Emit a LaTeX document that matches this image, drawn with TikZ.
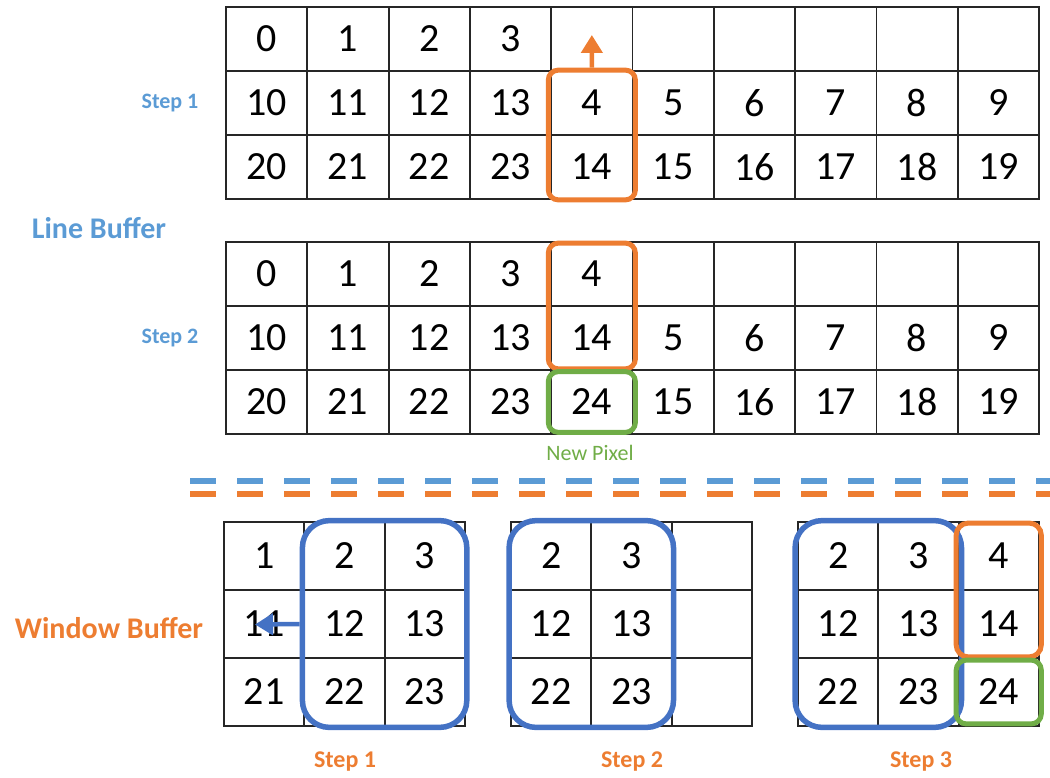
\documentclass[tikz,border=0pt]{standalone}
\usepackage{fontspec}
\setmainfont{Carlito}
\usetikzlibrary{fit,arrows.meta}
\definecolor{lbblue}{HTML}{5B9BD5}
\definecolor{wbblue}{HTML}{4472C4}
\definecolor{orng}{HTML}{ED7D31}
\definecolor{grn}{HTML}{70AD47}
\begin{document}
\begin{tikzpicture}[x=1pt,y=-1pt,
  cellbox/.style={draw=black!85, line width=1.8pt, minimum width=81.3pt, minimum height=64pt, inner sep=0pt, font=\fontsize{40}{40}\selectfont},
  wcell/.style={cellbox, minimum width=80.3pt, minimum height=68pt},
  hbox/.style={draw=#1, line width=5pt, rounded corners=10pt, inner sep=0pt},
  wbox/.style={draw=wbblue, line width=5.5pt, rounded corners=27pt, inner sep=0pt},
  lbl/.style={font=\bfseries\fontsize{30}{30}\selectfont},
  smallstep/.style={font=\bfseries\fontsize{22}{22}\selectfont, text=lbblue},
  botstep/.style={font=\bfseries\fontsize{24}{24}\selectfont, text=orng},
  tiparrow/.style={draw=#1, line width=4.5pt, -{Triangle[length=18pt,width=21pt]}},
  dashline/.style={draw=#1, line width=6pt, dash pattern=on 26pt off 21pt}
]
\useasboundingbox (0,0) rectangle (1050,778);

% ---- Line buffer, step 1
\foreach \v [count=\c] in {0,1,2,3,{},{},{},{},{},{}}
  \node[cellbox] (a-1-\c) at ({226+81.3*\c-40.65},39) {\v};
\foreach \v [count=\c] in {10,11,12,13,4,5,6,7,8,9}
  \node[cellbox] (a-2-\c) at ({226+81.3*\c-40.65},103) {\v};
\foreach \v [count=\c] in {20,21,22,23,14,15,16,17,18,19}
  \node[cellbox] (a-3-\c) at ({226+81.3*\c-40.65},167) {\v};

\node[hbox=orng, fit=(a-2-5)(a-3-5), inner xsep=2pt, inner ysep=0pt] (o1) {};
\coordinate (t0) at (591.85,35);
\draw[tiparrow=orng] (o1.north) -- (t0);

% ---- Line buffer, step 2
\foreach \v [count=\c] in {0,1,2,3,4,{},{},{},{},{}}
  \node[cellbox] (b-1-\c) at ({226+81.3*\c-40.65},274) {\v};
\foreach \v [count=\c] in {10,11,12,13,14,5,6,7,8,9}
  \node[cellbox] (b-2-\c) at ({226+81.3*\c-40.65},338) {\v};
\foreach \v [count=\c] in {20,21,22,23,24,15,16,17,18,19}
  \node[cellbox] (b-3-\c) at ({226+81.3*\c-40.65},402) {\v};

\node[hbox=orng, fit=(b-1-5)(b-2-5), inner xsep=2pt, inner ysep=-2pt] (o2) {};
\node[hbox=grn, fit=(b-3-5), inner xsep=2pt, inner ysep=-2.5pt] (g2) {};
\node[font=\fontsize{22}{22}\selectfont, text=grn] (np) at (590,453) {New Pixel};

% ---- labels
\node[smallstep] (s1) at (170,103) {Step 1};
\node[lbl, text=lbblue] (lb) at (99,228) {Line Buffer};
\node[smallstep] (s2) at (170,338) {Step 2};
\node[lbl, text=orng] (wb) at (109,628) {Window Buffer};

% ---- dashed separators
\coordinate (d1s) at (190,481); \coordinate (d1e) at (1050,481);
\coordinate (d2s) at (190,494); \coordinate (d2e) at (1050,494);
\draw[dashline=lbblue] (d1s) -- (d1e);
\draw[dashline=orng] (d2s) -- (d2e);

% ---- Window buffer, step 1
\foreach \r/\y/\vals in {1/556/{1,2,3}, 2/624/{11,12,13}, 3/692/{21,22,23}}
  \foreach \v [count=\c] in \vals
    \node[wcell] (w1-\r-\c) at ({224+80.3*\c-40.15},\y) {\v};
% ---- Window buffer, step 2
\foreach \r/\y/\vals in {1/556/{2,3,{}}, 2/624/{12,13,{}}, 3/692/{22,23,{}}}
  \foreach \v [count=\c] in \vals
    \node[wcell] (w2-\r-\c) at ({511+80.3*\c-40.15},\y) {\v};
% ---- Window buffer, step 3
\foreach \r/\y/\vals in {1/556/{2,3,4}, 2/624/{12,13,14}, 3/692/{22,23,24}}
  \foreach \v [count=\c] in \vals
    \node[wcell] (w3-\r-\c) at ({798+80.3*\c-40.15},\y) {\v};

\node[wbox, fit=(w1-1-2)(w1-3-3), inner xsep=1pt, inner ysep=0.5pt] (wb1) {};
\node[wbox, fit=(w2-1-1)(w2-3-2), inner xsep=1pt, inner ysep=0.5pt] (wb2) {};
\node[wbox, fit=(w3-1-1)(w3-3-2), inner xsep=2pt, inner ysep=0.5pt] (wb3) {};
\node[hbox=orng, fit=(w3-1-3)(w3-2-3), inner xsep=1.5pt, inner ysep=-2pt, rounded corners=12pt] (o3) {};
\node[hbox=grn, fit=(w3-3-3), inner xsep=1.5pt, inner ysep=-3pt] (g3) {};

\coordinate (t1) at (255,624.5);
\draw[tiparrow=wbblue] (wb1.west) -- (t1);

\node[botstep] (bs1) at (345,762) {Step 1};
\node[botstep] (bs2) at (632,762) {Step 2};
\node[botstep] (bs3) at (921,762) {Step 3};
\end{tikzpicture}
\end{document}
